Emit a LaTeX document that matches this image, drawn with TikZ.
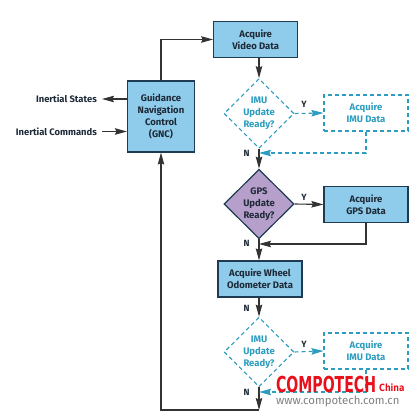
\documentclass[tikz,border=0pt]{standalone}
\usepackage{fontspec}
\setmainfont{Fira Sans}
\newfontfamily\wmfont{DejaVu Sans}
\usetikzlibrary{arrows.meta, positioning, calc, shapes.geometric}
\definecolor{boxblue}{HTML}{8FCBEA}
\definecolor{darkline}{HTML}{1F3B52}
\definecolor{dashteal}{HTML}{2C9CBF}
\definecolor{gpspurple}{HTML}{B79FCB}
\definecolor{inktext}{HTML}{1E2A38}
\definecolor{wmred}{HTML}{E8101A}

\begin{document}
\begin{tikzpicture}[
    x=1pt, y=-1pt,
    node distance=30pt and 30pt,
    procbox/.style={rectangle, draw=darkline, line width=1.2pt, fill=boxblue, minimum width=84pt, minimum height=35.5pt, inner sep=0pt, align=center, text=inktext, font=\fontsize{9.5}{12}\selectfont\bfseries},
    optbox/.style={rectangle, draw=dashteal, line width=1.1pt, dashed, dash pattern=on 4pt off 3pt, minimum width=84pt, minimum height=36pt, inner sep=0pt, align=center, text=dashteal, font=\fontsize{9.5}{12}\selectfont\bfseries},
    decision/.style={diamond, minimum width=70pt, minimum height=69.5pt, inner sep=0pt},
    optdecision/.style={decision, draw=dashteal, line width=1.1pt, dash pattern=on 4pt off 3pt},
    gpsdecision/.style={decision, draw=darkline, line width=1.2pt, fill=gpspurple},
    optlabel/.style={align=center, text=dashteal, font=\fontsize{9.5}{12}\selectfont\bfseries},
    gpslabel/.style={align=center, text=inktext, font=\fontsize{9.5}{12}\selectfont\bfseries},
    flow/.style={-{Stealth[length=12pt, width=6.5pt, inset=1.5pt]}, line width=1.1pt, draw=black!80},
    optflow/.style={-{Stealth[length=12pt, width=6.5pt, inset=1.5pt, color=dashteal, fill=dashteal]}, line width=1.1pt, draw=dashteal, dash pattern=on 4pt off 3pt},
    branch/.style={text=inktext, font=\fontsize{9}{10}\selectfont\bfseries, inner sep=0pt},
    sidelabel/.style={anchor=east, inner sep=5pt, text=inktext, font=\fontsize{9.4}{10}\selectfont\bfseries}
]
    \useasboundingbox (0,0) rectangle (415,411);

    % Define Nodes
    \node[procbox, minimum width=67pt, minimum height=71pt] (gnc) at (161,116.5) {Guidance\\Navigation\\Control\\(GNC)};
    \node[procbox] (video) at (255.7,39.5) {Acquire\\Video Data};
    \node[optdecision, label={[optlabel]center:{IMU\\Update\\Ready?}}] (imuA) at (259,113.5) {};
    \node[optbox] (dataA) at (366,113) {Acquire\\IMU Data};
    \node[gpsdecision, label={[gpslabel]center:{GPS\\Update\\Ready?}}] (gps) at (259,204) {};
    \node[procbox] (dataG) at (366,204.5) {Acquire\\GPS Data};
    \node[procbox, minimum height=36pt] (wheel) at (260,279) {Acquire Wheel\\Odometer Data};
    \node[optdecision, label={[optlabel]center:{IMU\\Update\\Ready?}}] (imuB) at (259,352) {};
    \node[optbox] (dataB) at (366,351) {Acquire\\IMU Data};

    \node[sidelabel] (states) at (102,99) {Inertial States};
    \node[sidelabel] (commands) at (102,131.5) {Inertial Commands};

    \coordinate (mergeA) at (imuA.south |- 0,153);
    \coordinate (mergeG) at (gps.south |- 0,244);
    \coordinate (mergeB) at (imuB.south |- 0,392);
    \coordinate (bottom) at (imuB.south |- 0,410);

    % Draw Edges
    \draw[flow] (gnc.north) |- (video.west);
    \draw[flow] (gnc.west |- states) -- (states.east);
    \draw[flow] (commands.east) -- (gnc.west |- commands);
    \draw[flow] (imuA.north |- video.south) -- (imuA.north);
    \draw[flow] (imuA.south) -- (gps.north);
    \draw[flow] (gps.south) -- (gps.south |- wheel.north);
    \draw[flow] (gps.east) -- (dataG.west);
    \draw[flow] (dataG.south) |- (mergeG);
    \draw[flow] (imuB.north |- wheel.south) -- (imuB.north);
    \draw[flow] (imuB.south) -- (bottom);
    \draw[flow] (bottom) -| (gnc.south);

    \draw[optflow] (imuA.east) -- (dataA.west);
    \draw[optflow] (dataA.south) |- (mergeA);
    \draw[optflow] (imuB.east) -- (dataB.west);
    \draw[optflow] (dataB.south) |- (mergeB);

    % Branch letters
    \node[branch] (yA) at (304,104.5) {Y};
    \node[branch] (nA) at (246.5,153.5) {N};
    \node[branch] (yG) at (304,197.5) {Y};
    \node[branch] (nG) at (246.5,243.5) {N};
    \node[branch] (nW) at (246.5,308) {N};
    \node[branch] (yB) at (304,344.5) {Y};
    \node[branch] (nB) at (246.5,392) {N};

    % Watermark
    \node[text=wmred, font=\wmfont\fontsize{22}{22}\selectfont\bfseries, xscale=0.64, inner sep=0pt, anchor=west] (wmark) at (276,384) {COMPOTECH};
    \node[text=wmred, font=\wmfont\fontsize{10}{10}\selectfont\bfseries, xscale=0.8, inner sep=0pt, anchor=west] (wmchina) at (379,388) {China};
    \node[text=black!50, font=\fontsize{11.4}{11.4}\selectfont, inner sep=0pt, anchor=west] (wmurl) at (276,401.5) {www.compotech.com.cn};
\end{tikzpicture}
\end{document}
